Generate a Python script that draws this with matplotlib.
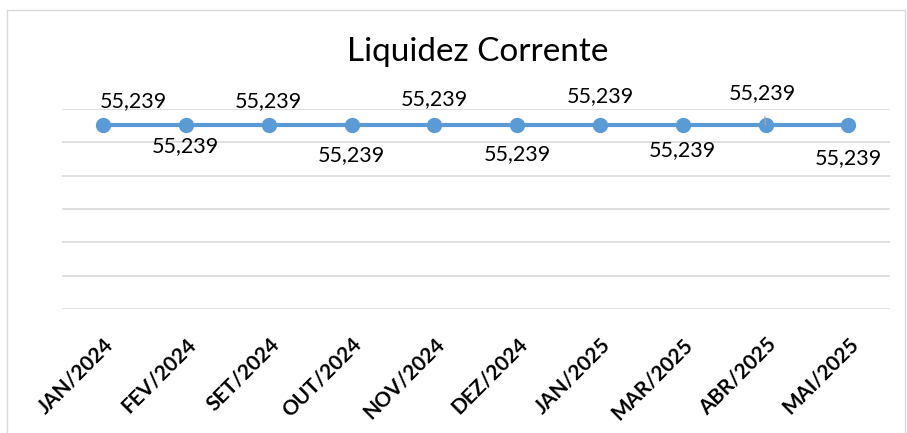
import matplotlib.pyplot as plt
from matplotlib.patches import Rectangle

# data
meses = ['JAN/2024', 'FEV/2024', 'SET/2024', 'OUT/2024', 'NOV/2024',
         'DEZ/2024', 'JAN/2025', 'MAR/2025', 'ABR/2025', 'MAI/2025']
liquidez = [55.239, 55.239, 55.239, 55.239, 55.239,
            55.239, 55.239, 55.239, 55.239, 55.239]
# label offsets (points) as they sit in the picture
lab_dx = [22, 0, 0, 0, 0, 0, 0, 0, -2, 0]
lab_dy = [17, -15, 17, -22, 19, -21, 21, -18, 23, -24]

plt.rcParams['font.family'] = ['Lato', 'DejaVu Sans']

fig = plt.figure(figsize=(9.07, 4.33), dpi=100)
ax = fig.add_axes([0.068, 0.286, 0.913, 0.462])

x = range(len(meses))
ax.plot(x, liquidez, color='#5B9BD5', lw=3, marker='o', ms=10, zorder=3)

for i, v in enumerate(liquidez):
    txt = '{:.3f}'.format(v).replace('.', ',')
    if i == 8:
        ax.annotate(txt, (i, v), xytext=(lab_dx[i], lab_dy[i]), textcoords='offset points',
                    ha='center', va='center', fontsize=15.5,
                    arrowprops=dict(arrowstyle='-', color='#a6a6a6', lw=1,
                                    shrinkA=8, shrinkB=0))
    else:
        ax.annotate(txt, (i, v), xytext=(lab_dx[i], lab_dy[i]), textcoords='offset points',
                    ha='center', va='center', fontsize=15.5)

ax.set_xlim(-0.5, len(meses) - 0.5)
ax.set_ylim(0, 60)
ax.set_yticks(range(0, 61, 10))
ax.yaxis.grid(True, color='#d9d9d9', lw=1.2)
ax.set_axisbelow(True)
ax.tick_params(axis='y', left=False, labelleft=False)
ax.tick_params(axis='x', length=0, pad=18)
ax.set_xticks(list(x))
ax.set_xticklabels(meses, rotation=45, ha='right', rotation_mode='anchor',
                   fontsize=15, fontweight='bold')
for s in ax.spines.values():
    s.set_visible(False)

fig.text(0.527, 0.88, 'Liquidez Corrente', ha='center', va='center', fontsize=24)

fig.patches.append(Rectangle((0.008, -0.01), 0.99, 0.987, transform=fig.transFigure,
                             fill=False, edgecolor='#d9d9d9', lw=1))

plt.savefig('out.png', dpi=100)
